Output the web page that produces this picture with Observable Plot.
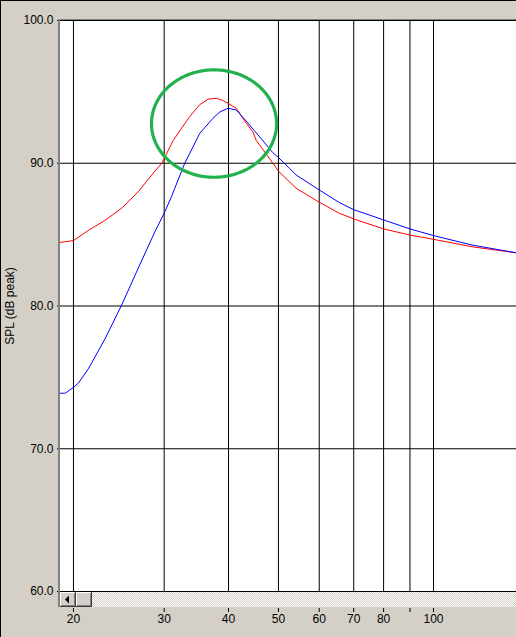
<!DOCTYPE html>
<html><head><meta charset="utf-8">
<script src="https://cdn.jsdelivr.net/npm/d3@7"></script>
<script src="https://cdn.jsdelivr.net/npm/@observablehq/plot@0.6"></script>
<style>
html,body{margin:0;padding:0;background:#d4d0c8;overflow:hidden}
#chart{position:relative;width:516px;height:637px}
</style></head><body><div id="chart"></div>
<script>
// ---- data ----
const xTicks = [20, 30, 40, 50, 60, 70, 80, 90, 100];
const xTickLabels = ["20", "30", "40", "50", "60", "70", "80", "", "100"];
const yTicks = [60, 70, 80, 90, 100];
const yLabel = "SPL (dB peak)";

const redFreq = [18.79, 20, 21.38, 23.03, 24.81, 26.71, 28.78, 29.7, 31.23, 33.63, 35.17, 36.49, 37.88, 39.01, 39.9, 41.41, 42.03, 43.3, 44.59, 45.27, 47.33, 50, 54.1, 60, 65.6, 70, 80, 90, 100, 118.8, 145];
const redDb   = [84.45, 84.58, 85.3, 86.0, 86.85, 88.0, 89.45, 90.0, 91.6, 93.27, 94.1, 94.49, 94.55, 94.39, 94.2, 93.85, 93.5, 92.8, 92.2, 91.6, 90.65, 89.45, 88.25, 87.27, 86.5, 86.1, 85.4, 84.97, 84.67, 84.15, 83.72];

const blueFreq = [18.79, 19.3, 20, 20.45, 21.38, 23.03, 24.81, 26.71, 28.78, 30, 31.0, 31.46, 32.89, 33.89, 35.17, 36.49, 37.31, 38.5, 39.9, 41.41, 43.3, 45.94, 47.33, 48.74, 50, 52.5, 54.1, 60, 65.6, 70, 80, 90, 100, 118.8, 145];
const blueDb   = [73.88, 73.9, 74.3, 74.6, 75.6, 77.7, 80.07, 82.64, 85.2, 86.5, 87.66, 88.25, 90.0, 90.93, 92.1, 92.75, 93.15, 93.6, 93.85, 93.73, 92.95, 91.86, 91.3, 90.75, 90.4, 89.65, 89.18, 88.13, 87.25, 86.75, 86.03, 85.4, 84.93, 84.27, 83.72];

// highlight ellipse (annotation): centre in data units, half-axes in decades / dB
const ringCenterFreq = 37.49, ringCenterDb = 92.78, ringHalfDecades = 0.1214, ringHalfDb = 3.76;

// ---- build tables ----
const red = redFreq.map((f, i) => ({f, db: redDb[i]}));
const blue = blueFreq.map((f, i) => ({f, db: blueDb[i]}));
const ring = d3.range(0, 181).map(k => {
  const t = k / 180 * 2 * Math.PI;
  return {f: ringCenterFreq * Math.pow(10, ringHalfDecades * Math.cos(t)), db: ringCenterDb + ringHalfDb * Math.sin(t)};
});
const xLabelRows = xTicks.map((t, i) => ({t, label: xTickLabels[i]}));

const plot = Plot.plot({
  width: 516, height: 637,
  marginLeft: 59, marginRight: 0, marginTop: 20, marginBottom: 46,
  style: {background: "#d4d0c8", fontFamily: "'Liberation Sans', Arial, sans-serif", fontSize: "12px", color: "#000", overflow: "visible"},
  x: {type: "log", domain: [18.79, 144.9]},
  y: {domain: [60, 100]},
  marks: [
    Plot.frame({fill: "white", stroke: null}),
    Plot.gridX(xTicks, {stroke: "#000", strokeOpacity: 1}),
    Plot.gridY(yTicks, {stroke: "#000", strokeOpacity: 1}),
    Plot.line(red, {x: "f", y: "db", stroke: "#ff0000", strokeWidth: 1, clip: true}),
    Plot.line(blue, {x: "f", y: "db", stroke: "#0000ff", strokeWidth: 1, clip: true}),
    Plot.line(ring, {x: "f", y: "db", stroke: "#22b14c", strokeWidth: 3.2}),
    Plot.axisY(yTicks, {tickSize: 2, tickPadding: 4, tickFormat: d => d.toFixed(1), label: null, stroke: "#000", fill: "#000"}),
    Plot.axisX(xTicks, {tickSize: 4, dy: 17, tickFormat: () => "", label: null, stroke: "#000"}),
    Plot.text(xLabelRows, {x: "t", text: "label", frameAnchor: "bottom", lineAnchor: "middle", textAnchor: "middle", dy: 28, fill: "#000", fontSize: 12}),
    Plot.text([yLabel], {frameAnchor: "left", textAnchor: "middle", lineAnchor: "middle", rotate: -90, dx: -49, fill: "#000", fontSize: 12})
  ]
});
document.getElementById("chart").appendChild(plot);

// ---- window chrome (sunken border, scrollbar) ----
(function () {
  const svg = d3.select(plot);
  const xs = plot.scale("x"), ys = plot.scale("y");
  const x0 = xs.range[0], x1 = xs.range[1];
  const y0 = ys.range[1], y1 = ys.range[0];
  const defs = svg.insert("defs", ":first-child");
  const pat = defs.append("pattern").attr("id", "chk").attr("width", 2).attr("height", 2).attr("patternUnits", "userSpaceOnUse");
  pat.append("rect").attr("width", 2).attr("height", 2).attr("fill", "#d4d0c8");
  pat.append("rect").attr("width", 1).attr("height", 1).attr("fill", "#ffffff");
  pat.append("rect").attr("x", 1).attr("y", 1).attr("width", 1).attr("height", 1).attr("fill", "#ffffff");

  const g = svg.append("g");
  const sbTop = y1 + 1, sbH = 15;
  g.append("rect").attr("x", x0 + 1).attr("y", sbTop).attr("width", x1 - x0 - 1).attr("height", sbH).attr("fill", "url(#chk)");
  function button(x, w) {
    g.append("rect").attr("x", x).attr("y", sbTop).attr("width", w).attr("height", sbH).attr("fill", "#404040");
    g.append("rect").attr("x", x).attr("y", sbTop).attr("width", w - 1).attr("height", sbH - 1).attr("fill", "#ffffff");
    g.append("rect").attr("x", x + 1).attr("y", sbTop + 1).attr("width", w - 2).attr("height", sbH - 2).attr("fill", "#808080");
    g.append("rect").attr("x", x + 1).attr("y", sbTop + 1).attr("width", w - 3).attr("height", sbH - 3).attr("fill", "#d4d0c8");
  }
  button(x0 + 1, 16);
  button(x0 + 17, 16);
  g.append("path").attr("d", `M${x0 + 6},${sbTop + 7.5} L${x0 + 10},${sbTop + 3.5} L${x0 + 10},${sbTop + 11.5} Z`).attr("fill", "#000");
  // sunken border
  g.append("rect").attr("x", x0 - 1).attr("y", y0 - 1).attr("width", 2).attr("height", sbTop + sbH - y0 + 1).attr("fill", "#808080");
  g.append("rect").attr("x", x0 - 1).attr("y", y0 - 1).attr("width", x1 - x0 + 1).attr("height", 1).attr("fill", "#808080");
  // outer window lines
  g.append("rect").attr("x", 0).attr("y", 0).attr("width", 516).attr("height", 1).attr("fill", "#000");
  g.append("rect").attr("x", 0).attr("y", 0).attr("width", 1).attr("height", 637).attr("fill", "#000");
})();
</script>
</body></html>
